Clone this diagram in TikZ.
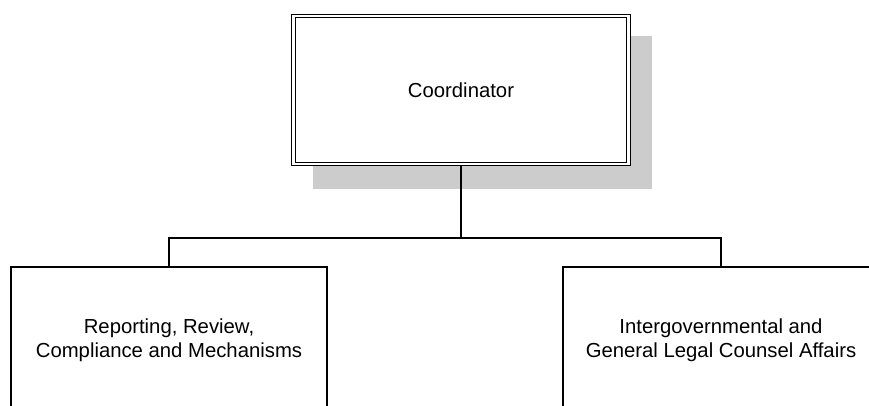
\documentclass[tikz,border=0pt]{standalone}
\usepackage{fontspec}
\setmainfont{Liberation Sans}
\usetikzlibrary{backgrounds}
\definecolor{shadowgray}{HTML}{CCCCCC}
\tikzset{
  unitbox/.style={draw, line width=1.2pt, fill=white, align=center,
    font=\fontsize{20.3}{24.5}\selectfont},
  headbox/.style={unitbox, double, double distance=2.5pt,
    minimum width=335pt, minimum height=148pt},
  branchbox/.style={unitbox, minimum width=316pt, minimum height=146pt},
  link/.style={line width=1.2pt}
}
\begin{document}
\begin{tikzpicture}[x=1pt,y=-1pt]
  \useasboundingbox (0,0) rectangle (869,405);
  \clip (0,0) rectangle (869,405);

  % head of the unit
  \node[headbox] (coord) at (461,90) {Coordinator};

  % the two branches
  \node[branchbox] (left) at (169,340) {Reporting, Review,\\Compliance and Mechanisms};
  \node[branchbox] (right) at (721,340) {Intergovernmental and\\General Legal Counsel Affairs};

  \coordinate (bus) at (461,238);

  \begin{scope}[on background layer]
    % drop shadow of the head box
    \fill[shadowgray] ([shift={(20,21)}]coord.north west) rectangle ([shift={(23,24)}]coord.south east);
    % connectors
    \draw[link] (coord.south) -- (bus);
    \draw[link] (left.north) |- (bus) -| (right.north);
  \end{scope}
\end{tikzpicture}
\end{document}
